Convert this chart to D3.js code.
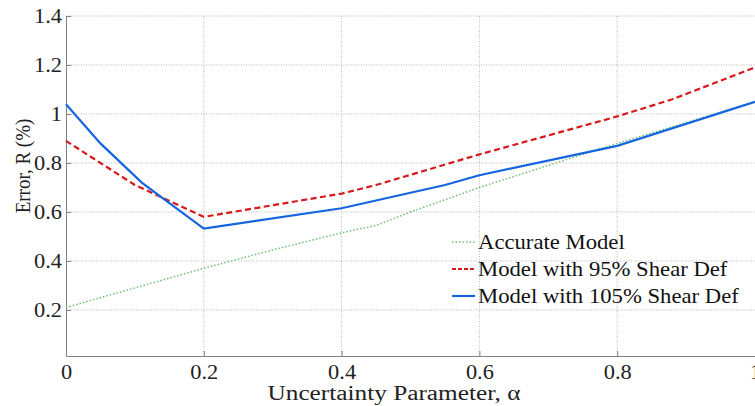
<!DOCTYPE html>
<html>
<head>
<meta charset="utf-8">
<script src="https://cdn.jsdelivr.net/npm/d3@7"></script>
<style>
  body { margin: 0; background: #fff; }
  svg { display: block; font-family: "Liberation Serif", "Times New Roman", serif; }
  .grid line { stroke: #b8b8b8; stroke-dasharray: 1 1.5; stroke-width: 1; }
</style>
</head>
<body>
<div id="chart"></div>
<script>
// values
const xTicks = [0, 0.2, 0.4, 0.6, 0.8, 1];
const yTicks = [0.2, 0.4, 0.6, 0.8, 1, 1.2, 1.4];

const accurateX = [0, 0.1, 0.2, 0.3, 0.4, 0.45, 0.5, 0.6, 0.7, 0.8, 0.9, 1];
const accurateY = [0.21, 0.29, 0.37, 0.445, 0.515, 0.545, 0.6, 0.70, 0.79, 0.88, 0.965, 1.05];

const shear95X = [0, 0.05, 0.1, 0.2, 0.4, 0.45, 0.6, 0.8, 0.88, 1];
const shear95Y = [0.89, 0.80, 0.71, 0.58, 0.675, 0.71, 0.835, 0.99, 1.06, 1.19];

const shear105X = [0, 0.05, 0.11, 0.2, 0.4, 0.55, 0.6, 0.8, 1];
const shear105Y = [1.04, 0.88, 0.72, 0.532, 0.615, 0.71, 0.75, 0.87, 1.05];

const seriesNames = ["Accurate Model", "Model with 95% Shear Def", "Model with 105% Shear Def"];

const width = 755, height = 406;
const margin = { top: 16, right: 0, bottom: 50, left: 66 };
const plotW = width - margin.left - margin.right;
const plotH = height - margin.top - margin.bottom;

const svg = d3.select("#chart").append("svg")
  .attr("width", width)
  .attr("height", height);

const g = svg.append("g").attr("transform", `translate(${margin.left},${margin.top})`);

const x = d3.scaleLinear().domain([0, 1]).range([0, plotW]);
const y = d3.scaleLinear().domain([0.012, 1.4]).range([plotH, 0]);

// the source picture is a bit wider than tall, so text is stretched sideways
function stretch(sel, k) {
  sel.each(function () {
    const n = this.getComputedTextLength();
    d3.select(this).attr("textLength", n * k).attr("lengthAdjust", "spacingAndGlyphs");
  });
}

// grid
const grid = g.append("g").attr("class", "grid");
grid.selectAll(".gx").data(xTicks.filter(v => v > 0 && v < 1))
  .join("line")
  .attr("x1", d => x(d)).attr("x2", d => x(d))
  .attr("y1", 0).attr("y2", plotH);
grid.selectAll(".gy").data(yTicks)
  .join("line")
  .attr("x1", 0).attr("x2", plotW)
  .attr("y1", d => y(d)).attr("y2", d => y(d));

const fmt = v => v === 1 ? "1" : (v === 0 ? "0" : d3.format(".1f")(v));

// axes
const xAxis = g.append("g")
  .attr("transform", `translate(0,${plotH})`)
  .call(d3.axisBottom(x).tickValues(xTicks).tickFormat(fmt).tickSizeInner(-5).tickSizeOuter(0));
const yAxis = g.append("g")
  .call(d3.axisLeft(y).tickValues(yTicks).tickFormat(fmt).tickSizeInner(-5).tickSizeOuter(0));

[xAxis, yAxis].forEach(a => {
  a.select(".domain").attr("stroke", "#808080");
  a.selectAll(".tick line").attr("stroke", "#808080");
  a.selectAll(".tick text").attr("fill", "#222").style("font-size", "20px").style("font-family", "Liberation Serif, serif");
});
xAxis.selectAll(".tick text").attr("y", 23).attr("dy", null);
yAxis.selectAll(".tick text").attr("x", -4);
stretch(xAxis.selectAll(".tick text"), 1.12);
stretch(yAxis.selectAll(".tick text"), 1.12);

// axis titles
svg.append("text")
  .attr("x", 394).attr("y", 400)
  .attr("text-anchor", "middle")
  .style("font-size", "20px").attr("fill", "#222")
  .attr("textLength", 253).attr("lengthAdjust", "spacingAndGlyphs")
  .text("Uncertainty Parameter, α");

svg.append("text")
  .attr("transform", `translate(30,166) scale(1.15,1) rotate(-90)`)
  .attr("text-anchor", "middle")
  .style("font-size", "19px").attr("fill", "#222")
  .text("Error, R (%)");

// lines
const line = d3.line().x(d => x(d[0])).y(d => y(d[1]));
const zip = (xs, ys) => xs.map((v, i) => [v, ys[i]]);

const series = [
  { name: seriesNames[0], pts: zip(accurateX, accurateY), color: "#6fbf73", dash: "1.5 2", legDash: "1.5 2", w: 1.5 },
  { name: seriesNames[1], pts: zip(shear95X, shear95Y), color: "#d7191c", dash: "6 3.5", legDash: "4 2", w: 2.2 },
  { name: seriesNames[2], pts: zip(shear105X, shear105Y), color: "#1565e0", dash: null, legDash: null, w: 2.2 }
];

g.selectAll(".series").data(series)
  .join("path")
  .attr("class", "series")
  .attr("d", d => line(d.pts))
  .attr("fill", "none")
  .attr("stroke", d => d.color)
  .attr("stroke-width", d => d.w)
  .attr("stroke-dasharray", d => d.dash);

// legend, no frame
const leg = svg.append("g").attr("transform", "translate(452,242)");
const rows = leg.selectAll("g").data(series).join("g")
  .attr("transform", (d, i) => `translate(0,${i * 27})`);
rows.append("line")
  .attr("x1", 0).attr("x2", 23).attr("y1", 0).attr("y2", 0)
  .attr("stroke", d => d.color)
  .attr("stroke-width", d => d.w)
  .attr("stroke-dasharray", d => d.legDash);
const legText = rows.append("text")
  .attr("x", 26).attr("y", 7)
  .style("font-size", "21px").attr("fill", "#111")
  .text(d => d.name);
stretch(legText, 1.08);
</script>
</body>
</html>
